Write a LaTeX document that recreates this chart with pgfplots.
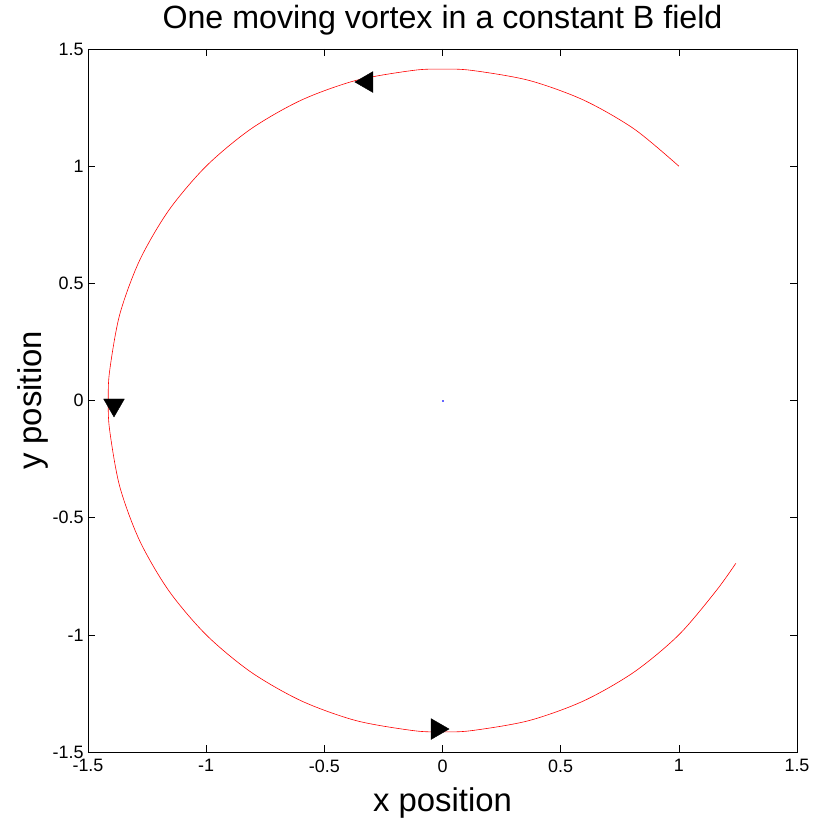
\documentclass[border=0pt]{standalone}
\usepackage{fontspec}
\setmainfont{Liberation Sans}
\usepackage{pgfplots}
\pgfplotsset{compat=1.18}
\begin{document}
\begin{tikzpicture}
\begin{axis}[
  scale only axis, width=709bp, height=703bp,
  xmin=-1.5, xmax=1.5, ymin=-1.5, ymax=1.5,
  xtick={-1.5,-1,-0.5,0,0.5,1,1.5},
  ytick={-1.5,-1,-0.5,0,0.5,1,1.5},
  xticklabels={-1.5,-1,-0.5,0,0.5,1,1.5},
  yticklabels={-1.5,-1,-0.5,0,0.5,1,1.5},
  tick align=inside, major tick length=7bp,
  tick label style={font=\fontsize{18}{18}\selectfont},
  xticklabel style={yshift=-4bp},
  yticklabel style={xshift=-1bp},
  /pgf/number format/assume math mode=true,
  axis line style={line width=0.8bp},
  every tick/.style={black, line width=0.6bp},
  title={One moving vortex in a constant B field},
  title style={font=\fontsize{32.3}{32}\selectfont, at={(rel axis cs:0.5,1)}, anchor=center, yshift=23bp},
  xlabel={x position},
  xlabel style={font=\fontsize{33}{33}\selectfont, at={(rel axis cs:0.5,0)}, anchor=center, yshift=-51bp},
  ylabel={y position},
  ylabel style={font=\fontsize{33}{33}\selectfont, at={(rel axis cs:0,0.5)}, anchor=center, yshift=55bp},
]
\addplot[red, line width=0.6bp, smooth] coordinates {
(1.0000,1.0000) (0.8112,1.1585) (0.5977,1.2817) (0.3660,1.3660) (0.1233,1.4088)
(0.0000,1.4142) (-0.1233,1.4088) (-0.3660,1.3660) (-0.5977,1.2817) (-0.8112,1.1585)
(-1.0000,1.0000) (-1.1585,0.8112) (-1.2817,0.5977) (-1.3660,0.3660) (-1.4088,0.1233)
(-1.4142,0.0000) (-1.4088,-0.1233) (-1.3660,-0.3660) (-1.2817,-0.5977) (-1.1585,-0.8112)
(-1.0000,-1.0000) (-0.8112,-1.1585) (-0.5977,-1.2817) (-0.3660,-1.3660) (-0.1233,-1.4088)
(0.0000,-1.4142) (0.1233,-1.4088) (0.3660,-1.3660) (0.5977,-1.2817) (0.8112,-1.1585)
(1.0000,-1.0000) (1.1585,-0.8112) (1.2410,-0.6950)
};
\addplot[only marks, mark=square*, mark size=0.7bp, blue!60] coordinates {(0,0)};
\addplot[only marks, black, mark=triangle*, mark size=12bp, mark options={rotate=90}] coordinates {(-0.320,1.359)};
\addplot[only marks, black, mark=triangle*, mark size=12bp, mark options={rotate=180}] coordinates {(-1.390,-0.019)};
\addplot[only marks, black, mark=triangle*, mark size=12bp, mark options={rotate=-90}] coordinates {(-0.023,-1.402)};
\end{axis}
\pgfresetboundingbox
\useasboundingbox ([shift={(-88bp,-72bp)}]current axis.south west) rectangle ([shift={(17bp,49bp)}]current axis.north east);
\end{tikzpicture}
\end{document}
